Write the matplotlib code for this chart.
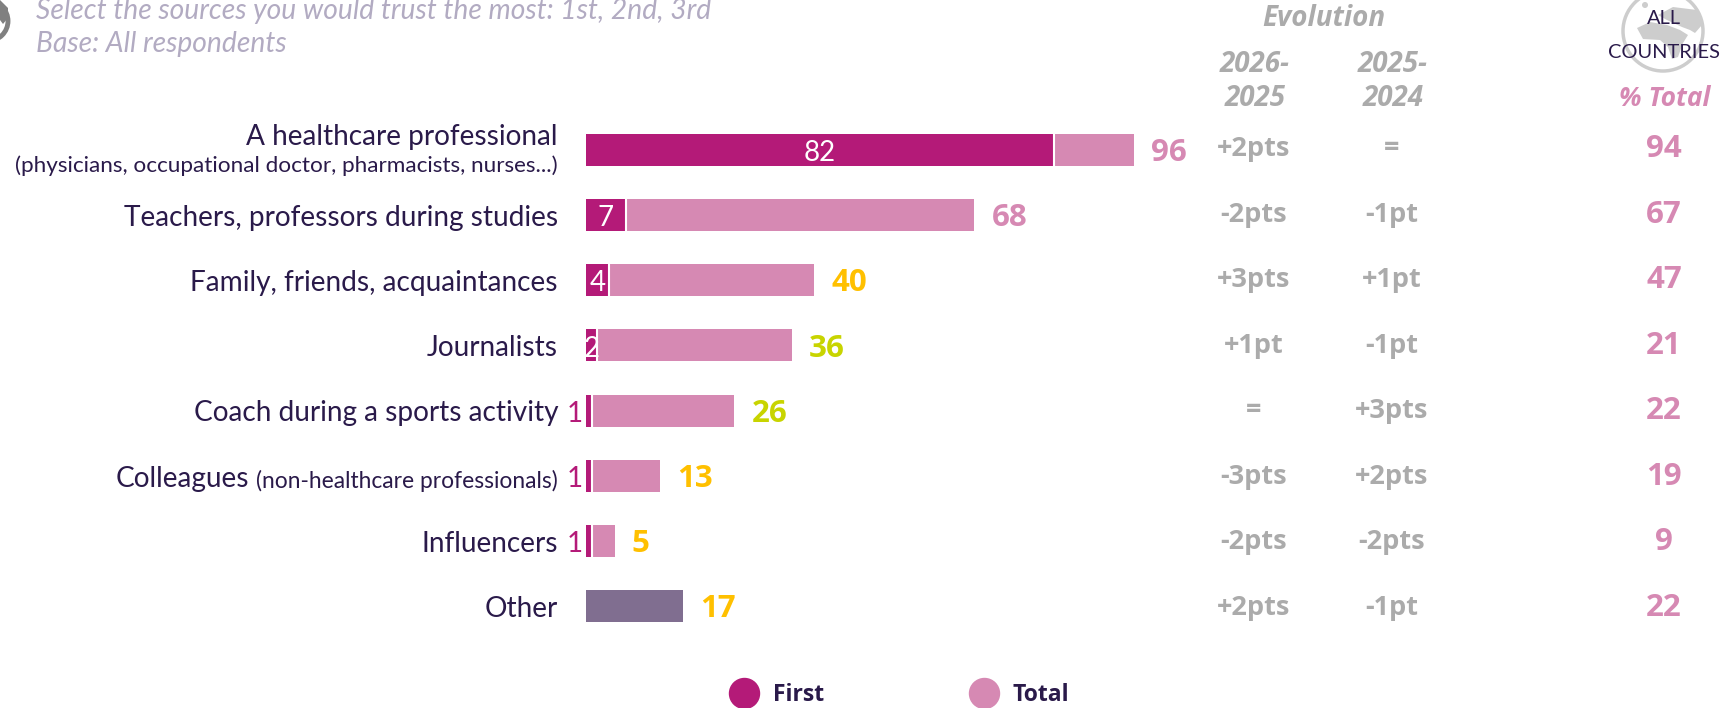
import matplotlib
matplotlib.use('Agg')
import matplotlib.pyplot as plt
from matplotlib.lines import Line2D
from matplotlib.patches import Circle, Polygon
from matplotlib.transforms import blended_transform_factory

categories = ['A healthcare professional', 'Teachers, professors during studies',
              'Family, friends, acquaintances', 'Journalists',
              'Coach during a sports activity', 'Colleagues', 'Influencers', 'Other']
first = [82, 7, 4, 2, 1, 1, 1, 0]
total = [96, 68, 40, 36, 26, 13, 5, 17]
total_colors = ['#D689B3', '#D689B3', '#FFC000', '#C8D400', '#C8D400', '#FFC000', '#FFC000', '#FFC000']
evol_2026 = ['+2pts', '-2pts', '+3pts', '+1pt', '=', '-3pts', '-2pts', '+2pts']
evol_2025 = ['=', '-1pt', '+1pt', '-1pt', '+3pts', '+2pts', '-2pts', '-1pt']
all_countries = [94, 67, 47, 21, 22, 19, 9, 22]

W, H = 1732, 708
MAGENTA = '#B41A78'
PINK = '#D689B3'
PURPLE = '#806E90'
DARK = '#2A1A4A'
GREY = '#ABABAB'
SUB = '#B2ABC2'
GLOBE = '#CDCDCD'
BOLD = ['Open Sans', 'DejaVu Sans']

plt.rcParams['font.family'] = ['Lato', 'DejaVu Sans']

fig = plt.figure(figsize=(W / 100, H / 100), dpi=100)

def fx(px):
    return px / W

def fy(px):
    return 1 - px / H

# bars sit in their own axes, x is percent, y is row index
row_gap = 65.2
bar_h = 32 / row_gap
ax = fig.add_axes([fx(586), fy(705), fx(1146), 588 / H])
ax.set_xlim(0, 1146 / 5.71)
ax.set_ylim((705 - 149.7) / row_gap, (117 - 149.7) / row_gap)
ax.axis('off')

for i in range(len(categories)):
    if i == 7:
        ax.barh(i, total[i], height=bar_h, color=PURPLE)
    else:
        ax.barh(i, first[i], height=bar_h, color=MAGENTA)
        ax.barh(i, total[i] - first[i], left=first[i], height=bar_h, color=PINK)
        ax.vlines(first[i], i - bar_h / 2, i + bar_h / 2, color='white', linewidth=1.5)
    if first[i] >= 2:
        ax.text(first[i] / 2, i + 0.05, str(first[i]), color='white', fontsize=20,
                ha='center', va='center')
    elif first[i] == 1:
        ax.text(-0.5, i + 0.05, '1', color=MAGENTA, fontsize=20, ha='right', va='center')
    ax.text(total[i] + 3, i + 0.05, str(total[i]), color=total_colors[i], fontsize=22.5,
            fontweight='bold', family=BOLD, ha='left', va='center')

# row labels and the columns on the right share the row scale
trans = blended_transform_factory(fig.transFigure, ax.transData)
for i, name in enumerate(categories):
    if i == 0:
        fig.text(fx(558), fy(137), name, color=DARK, fontsize=20.2, ha='right', va='center')
        fig.text(fx(558), fy(166), '(physicians, occupational doctor, pharmacists, nurses...)',
                 color=DARK, fontsize=16.2, ha='right', va='center')
    elif name == 'Colleagues':
        fig.text(fx(558), fy(481), '(non-healthcare professionals)', color=DARK, fontsize=16.4,
                 ha='right', va='center')
        fig.text(fx(249), fy(479), name, color=DARK, fontsize=20.2, ha='right', va='center')
    else:
        ax.text(fx(558), i + 0.04, name, transform=trans, color=DARK, fontsize=20.2,
                ha='right', va='center')
    col_y = i * 1.005 - 0.01
    ax.text(fx(1254), col_y, evol_2026[i], transform=trans, color=GREY, fontsize=19.5,
            fontweight='bold', family=BOLD, ha='center', va='center')
    ax.text(fx(1392), col_y, evol_2025[i], transform=trans, color=GREY, fontsize=19.5,
            fontweight='bold', family=BOLD, ha='center', va='center')
    ax.text(fx(1664), col_y, str(all_countries[i]), transform=trans, color=PINK, fontsize=22.5,
            fontweight='bold', family=BOLD, ha='center', va='center')

# header text
head = dict(color=GREY, fontsize=20, style='italic', fontweight='bold', family=BOLD,
            ha='center', va='center')
fig.text(fx(36), fy(11), 'Select the sources you would trust the most: 1st, 2nd, 3rd', color=SUB,
         fontsize=20.3, style='italic', ha='left', va='center')
fig.text(fx(36), fy(44), 'Base: All respondents', color=SUB, fontsize=20.3, style='italic',
         ha='left', va='center')
fig.text(fx(1324), fy(19), 'Evolution', **head)
fig.text(fx(1255), fy(64), '2026-', **head)
fig.text(fx(1255), fy(98), '2025', **head)
fig.text(fx(1393), fy(64), '2025-', **head)
fig.text(fx(1393), fy(98), '2024', **head)
head['color'] = PINK
head['fontsize'] = 19
fig.text(fx(1665), fy(98), '% Total', **head)

# icons drawn in pixel space, behind everything else
icons = fig.add_axes([0, 0, 1, 1], zorder=-1)
icons.set_xlim(0, W)
icons.set_ylim(H, 0)
icons.axis('off')
icons.add_patch(Circle((1663, 31), 40, facecolor='white', edgecolor=GLOBE, linewidth=2.5))
africa = [(1637, 28), (1650, 22), (1667, 25), (1680, 30), (1688, 35), (1683, 43), (1678, 57),
          (1672, 59), (1668, 47), (1660, 40), (1643, 39)]
asia = [(1658, 15), (1673, 7), (1697, 10), (1702, 25), (1695, 33), (1690, 30), (1682, 27), (1667, 20)]
icons.add_patch(Polygon(africa, closed=True, facecolor=GLOBE, edgecolor='none'))
icons.add_patch(Polygon(asia, closed=True, facecolor=GLOBE, edgecolor='none'))
icons.add_patch(Circle((1645, 5), 3, facecolor=GLOBE, edgecolor='none'))
icons.add_patch(Circle((-12, 21), 20, facecolor='white', edgecolor='#808080', linewidth=3.5))
icons.add_patch(Polygon([(0, 0), (8, 8), (8, 18), (3, 24), (0, 20)], closed=True,
                        facecolor='#808080', edgecolor='none'))

fig.text(fx(1664), fy(18), 'ALL', color=DARK, fontsize=14.4, ha='center', va='center')
fig.text(fx(1664), fy(52), 'COUNTRIES', color=DARK, fontsize=14.4, ha='center', va='center')

# legend
handles = [Line2D([], [], linestyle='none', marker='o', markersize=21.6, color=MAGENTA),
           Line2D([], [], linestyle='none', marker='o', markersize=21.6, color=PINK)]
fig.legend(handles, ['First', 'Total'], loc='center', bbox_to_anchor=(fx(895), fy(695)), ncol=2,
           frameon=False, handletextpad=0.25, columnspacing=5.98,
           prop={'family': BOLD, 'size': 16.5, 'weight': 'bold'}, labelcolor=DARK)

fig.savefig('out.png', dpi=100)
